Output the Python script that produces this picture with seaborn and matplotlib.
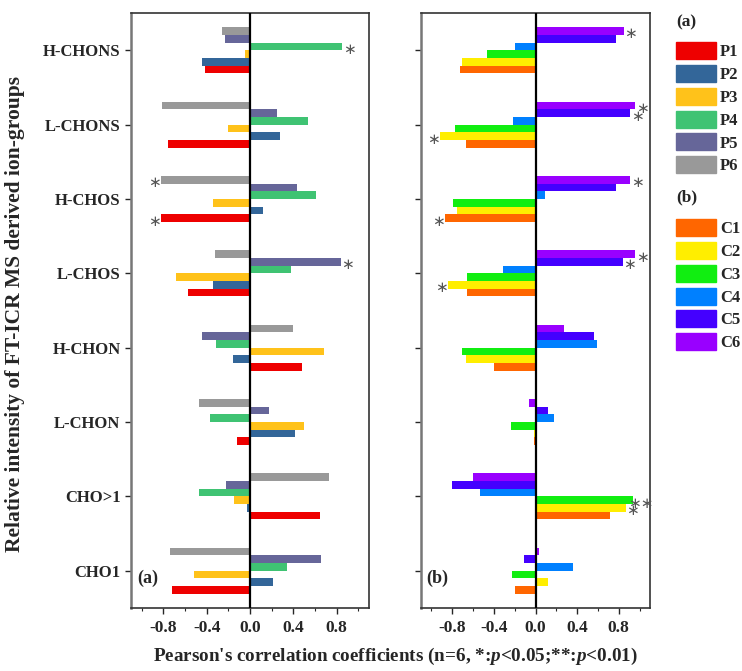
import numpy as np
import pandas as pd
import matplotlib
matplotlib.use('Agg')
import matplotlib.pyplot as plt
from matplotlib.patches import Patch
from matplotlib.ticker import MultipleLocator
import seaborn as sns

# ion groups, top to bottom
groups = ['H-CHONS', 'L-CHONS', 'H-CHOS', 'L-CHOS', 'H-CHON', 'L-CHON', 'CHO>1', 'CHO1']

# panel (a): P1..P6 correlation values per group
p_names = ['P1', 'P2', 'P3', 'P4', 'P5', 'P6']
P1 = [-0.42, -0.76, -0.82, -0.57, 0.48, -0.12, 0.65, -0.72]
P2 = [-0.44, 0.28, 0.12, -0.34, -0.16, 0.42, -0.03, 0.21]
P3 = [-0.05, -0.20, -0.34, -0.68, 0.68, 0.50, -0.15, -0.52]
P4 = [0.85, 0.54, 0.61, 0.38, -0.31, -0.37, -0.47, 0.34]
P5 = [-0.23, 0.25, 0.43, 0.84, -0.44, 0.18, -0.22, 0.66]
P6 = [-0.26, -0.81, -0.82, -0.32, 0.40, -0.47, 0.73, -0.74]
p_colors = ['#ee0000', '#336699', '#ffc21a', '#3fc373', '#666699', '#999999']
# significant bars (group, series, label)
p_sig = [('H-CHONS', 'P4', '*'), ('H-CHOS', 'P6', '*'), ('H-CHOS', 'P1', '*'),
         ('L-CHOS', 'P5', '*')]

# panel (b): C1..C6
c_names = ['C1', 'C2', 'C3', 'C4', 'C5', 'C6']
C1 = [-0.73, -0.67, -0.87, -0.66, -0.40, -0.01, 0.72, -0.20]
C2 = [-0.71, -0.92, -0.75, -0.84, -0.67, -0.01, 0.87, 0.12]
C3 = [-0.47, -0.77, -0.79, -0.66, -0.71, -0.24, 0.94, -0.23]
C4 = [-0.20, -0.22, 0.09, -0.31, 0.59, 0.18, -0.53, 0.36]
C5 = [0.77, 0.91, 0.77, 0.84, 0.56, 0.12, -0.80, -0.11]
C6 = [0.85, 0.96, 0.91, 0.96, 0.27, -0.06, -0.60, 0.03]
c_colors = ['#ff6600', '#ffee00', '#11ee11', '#0080ff', '#4400ff', '#9900ff']
c_sig = [('H-CHONS', 'C6', '*'), ('L-CHONS', 'C6', '*'), ('L-CHONS', 'C5', '*'),
         ('L-CHONS', 'C2', '*'), ('H-CHOS', 'C6', '*'), ('H-CHOS', 'C1', '*'),
         ('L-CHOS', 'C6', '*'), ('L-CHOS', 'C5', '*'), ('L-CHOS', 'C2', '*'),
         ('CHO>1', 'C3', '**'), ('CHO>1', 'C2', '*')]

sns.set_style('ticks')
plt.rcParams['font.family'] = ['Liberation Serif', 'DejaVu Sans']
plt.rcParams['font.weight'] = 'bold'
plt.rcParams['mathtext.fontset'] = 'custom'
plt.rcParams['mathtext.rm'] = 'Liberation Serif:bold'
plt.rcParams['mathtext.it'] = 'Liberation Serif:italic:bold'


def long_df(names, series):
    rows = []
    for name, vals in zip(names, series):
        for g, v in zip(groups, vals):
            rows.append({'group': g, 'series': name, 'r': v})
    return pd.DataFrame(rows)


fig = plt.figure(figsize=(7.42, 6.71), dpi=100)
ax1 = fig.add_axes([131 / 742, 1 - 608 / 671, 238 / 742, 595 / 671])
ax2 = fig.add_axes([421 / 742, 1 - 608 / 671, 229 / 742, 595 / 671])

panels = [
    (ax1, long_df(p_names, [P1, P2, P3, P4, P5, P6]), p_names, p_colors, p_sig, '(a)'),
    (ax2, long_df(c_names, [C1, C2, C3, C4, C5, C6]), c_names, c_colors, c_sig, '(b)'),
]

width = 0.62
for ax, df, names, colors, sig, tag in panels:
    hue_order = names[::-1]
    pal = dict(zip(names, colors))
    sns.barplot(data=df, y='group', x='r', hue='series', order=groups,
                hue_order=hue_order, palette=pal, orient='h', width=width,
                saturation=1, linewidth=0, legend=False, errorbar=None, ax=ax)
    ax.set_xlim(-1.1, 1.1)
    ax.set_ylim(len(groups) - 0.5, -0.5)
    ax.axvline(0, color='black', lw=1.6, zorder=3)
    ax.xaxis.set_minor_locator(MultipleLocator(0.2))
    ax.set_xticks([-0.8, -0.4, 0.0, 0.4, 0.8])
    ax.set_xticklabels(['-0.8', '-0.4', '0.0', '0.4', '0.8'])
    ax.tick_params(axis='x', which='major', length=4, width=1, labelsize=12.5, pad=5)
    ax.tick_params(axis='x', which='minor', length=2.5, width=0.8)
    ax.tick_params(axis='y', length=4, width=1, labelsize=12)
    ax.set_xlabel('')
    ax.set_ylabel('')
    for s in ['top', 'right', 'bottom']:
        ax.spines[s].set_visible(True)
        ax.spines[s].set_color('#333333')
        ax.spines[s].set_linewidth(1.2)
    ax.spines['left'].set_color('#777777')
    ax.spines['left'].set_linewidth(1.8)
    ax.text(0.025, 0.05, tag, transform=ax.transAxes, fontsize=13,
            fontweight='bold', ha='left', va='center')

    # significance marks at the bar ends
    w = width / len(names)
    for g, s, lab in sig:
        gi = groups.index(g)
        hi = hue_order.index(s)
        val = df[(df.group == g) & (df.series == s)].r.iloc[0]
        yc = gi + (hi + 0.5) * w - width / 2
        xo = val + (0.065 if val > 0 else -0.065) * (1.15 if len(lab) > 1 else 1)
        ax.text(xo, yc + 0.04, lab.replace('*', '\u2217'), ha='center', va='center',
                fontsize=11, color='#555555', family='DejaVu Sans',
                fontweight='normal')

ax2.set_yticklabels([])

fig.text(15 / 742, 1 - 314 / 671, 'Relative intensity of FT-ICR MS derived ion-groups',
         rotation=90, ha='center', va='center', fontsize=15.5, fontweight='bold')
fig.text(395 / 742, 1 - 656 / 671,
         "Pearson's correlation coefficients (n=6, *:$p$<0.05;**:$p$<0.01)",
         ha='center', va='center', fontsize=13.8, fontweight='bold')

# legends: headers as text, entries as patch legends
leg_kw = dict(frameon=False, fontsize=12, handlelength=2.4, handleheight=1.2,
              labelspacing=0.28, handletextpad=0.25, borderpad=0, borderaxespad=0)
fig.text(676 / 742, 1 - 22 / 671, '(a)', ha='left', va='center', fontsize=12.5,
         fontweight='bold')
fig.text(676 / 742, 1 - 197 / 671, '(b)', ha='left', va='center', fontsize=12.5,
         fontweight='bold')
leg1 = fig.legend([Patch(color=c) for c in p_colors], p_names,
                  loc='upper left', bbox_to_anchor=(676 / 742, 1 - 42 / 671), **leg_kw)
leg2 = fig.legend([Patch(color=c) for c in c_colors], c_names,
                  loc='upper left', bbox_to_anchor=(676 / 742, 1 - 219 / 671), **leg_kw)

fig.savefig('out.png', dpi=100)
